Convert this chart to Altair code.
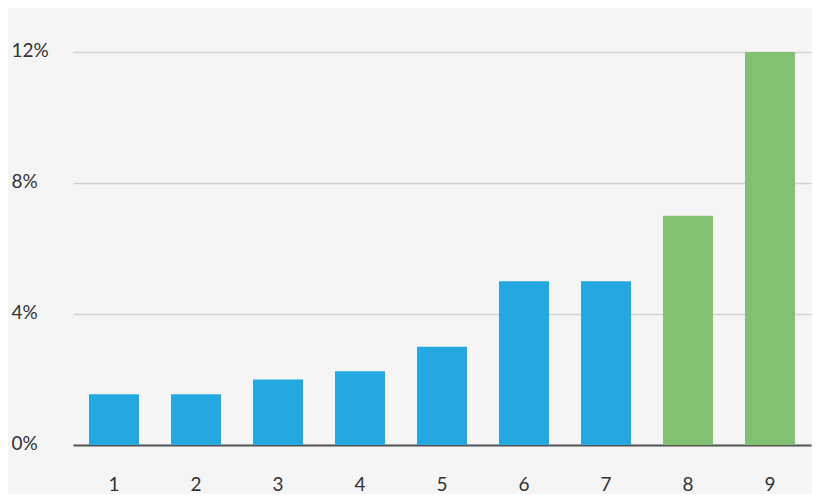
import altair as alt
import pandas as pd

categories = ["1", "2", "3", "4", "5", "6", "7", "8", "9"]
values = [1.55, 1.55, 2.0, 2.25, 3.0, 5.0, 5.0, 7.0, 12.0]
groups = ["a", "a", "a", "a", "a", "a", "a", "b", "b"]
group_colors = ["#23a8df", "#82c072"]
y_ticks = [0, 4, 8, 12]

df = pd.DataFrame({"cat": categories, "value": values, "group": groups})

chart = alt.Chart(df).mark_bar().encode(
    x=alt.X("cat:N", sort=categories,
            scale=alt.Scale(paddingInner=0.39, paddingOuter=0.195),
            axis=alt.Axis(title=None, labelAngle=0, grid=False, ticks=False,
                          tickSize=0, labelPadding=39, labelBaseline="middle",
                          domainColor="#555555", domainWidth=2,
                          labelFont="Lato", labelFontSize=19, labelColor="#333333")),
    y=alt.Y("value:Q", scale=alt.Scale(domain=[0, 12], nice=False),
            axis=alt.Axis(title=None, values=y_ticks, domain=False, ticks=False,
                          tickSize=0, labelAlign="left", labelPadding=62,
                          labelBaseline="middle", labelOffset=-2,
                          labelExpr="datum.value + '%'",
                          gridColor="#d2d2d2", gridWidth=1.5,
                          labelFont="Lato", labelFontSize=19, labelColor="#333333")),
    color=alt.Color("group:N", scale=alt.Scale(domain=["a", "b"], range=group_colors), legend=None),
).properties(
    width=738, height=393,
    autosize=alt.AutoSizeParams(type="none"),
    padding={"left": 65, "top": 44, "right": 1, "bottom": 49},
    background="#f5f5f5",
).configure_view(stroke=None)

chart.save("out.html", embed_options={"renderer": "svg", "actions": False})
